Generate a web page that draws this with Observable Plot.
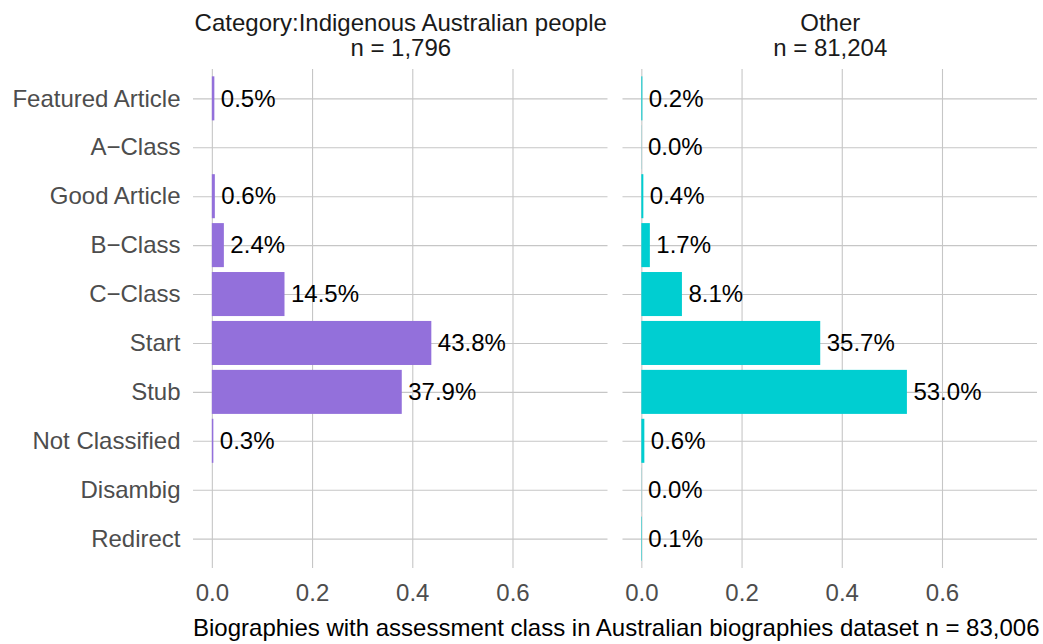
<!DOCTYPE html>
<html>
<head>
<meta charset="utf-8">
<script src="https://cdn.jsdelivr.net/npm/d3@7"></script>
<script src="https://cdn.jsdelivr.net/npm/@observablehq/plot@0.6"></script>
<style>
  html, body { margin: 0; padding: 0; background: #fff; overflow: hidden; }
  #chart svg { display: block; }
  #caption {
    font-family: "Liberation Sans", Arial, sans-serif;
    font-size: 24px;
    line-height: 28px;
    color: #000;
    text-align: center;
    box-sizing: border-box;
    width: 1043px;
    padding-left: 193px;
    padding-right: 6px;
    white-space: nowrap;
  }
</style>
</head>
<body>
<div id="chart"></div>
<div id="caption"></div>
<script>
// ---- data ----
const categories = ["Featured Article", "A\u2212Class", "Good Article", "B\u2212Class", "C\u2212Class", "Start", "Stub", "Not Classified", "Disambig", "Redirect"];
const groups = ["Category:Indigenous Australian people", "Other"];
const groupN = ["1,796", "81,204"];
const indigenousShare = [0.005, null, 0.006, 0.024, 0.145, 0.438, 0.379, 0.003, null, null];
const otherShare = [0.002, 0.0003, 0.004, 0.017, 0.081, 0.357, 0.530, 0.006, 0.0003, 0.001];
const groupColors = ["#9370DB", "#00CED1"];
const xTicks = [0, 0.2, 0.4, 0.6];
const captionText = "Biographies with assessment class in Australian biographies dataset n = 83,006";

const series = [indigenousShare, otherShare];
const rows = [];
groups.forEach((g, gi) => {
  categories.forEach((c, ci) => {
    const v = series[gi][ci];
    if (v !== null && v !== undefined) rows.push({group: g, cat: c, value: v});
  });
});
const titles = groups.map((g, i) => ({group: g, label: g + "\nn = " + groupN[i]}));
const pct = d3.format(".1%");

const chart = Plot.plot({
  width: 1043,
  height: 614,
  marginTop: 69,
  marginBottom: 46,
  marginLeft: 193,
  marginRight: 6,
  style: {fontFamily: "'Liberation Sans', Arial, sans-serif", fontSize: "24px", background: "#fff"},
  fx: {domain: groups, padding: 0.0349, axis: null, round: false},
  x: {domain: [-0.0376, 0.7896]},
  y: {domain: categories, paddingInner: 0.1, paddingOuter: 0.15, round: false},
  color: {domain: groups, range: groupColors},
  marks: [
    Plot.gridX(xTicks, {stroke: "#c6c6c6", strokeOpacity: 1, strokeWidth: 1.1}),
    Plot.gridY(categories, {stroke: "#c6c6c6", strokeOpacity: 1, strokeWidth: 1.1}),
    Plot.axisX({ticks: xTicks, tickFormat: d3.format(".1f"), tickSize: 0, tickPadding: 15, label: null, fill: "#4d4d4d", fontSize: 24}),
    Plot.axisY({tickSize: 0, tickPadding: 13, label: null, fill: "#4d4d4d", fontSize: 24}),
    Plot.barX(rows, {fx: "group", y: "cat", x: "value", fill: "group"}),
    Plot.text(rows, {fx: "group", y: "cat", x: "value", text: d => pct(d.value), textAnchor: "start", dx: 6, fill: "#000", fontSize: 24}),
    Plot.text(titles, {fx: "group", text: "label", frameAnchor: "top", lineAnchor: "bottom", dy: -14, lineHeight: 1.04, fill: "#1a1a1a", fontSize: 24})
  ]
});
document.getElementById("chart").appendChild(chart);
document.getElementById("caption").textContent = captionText;
</script>
</body>
</html>
